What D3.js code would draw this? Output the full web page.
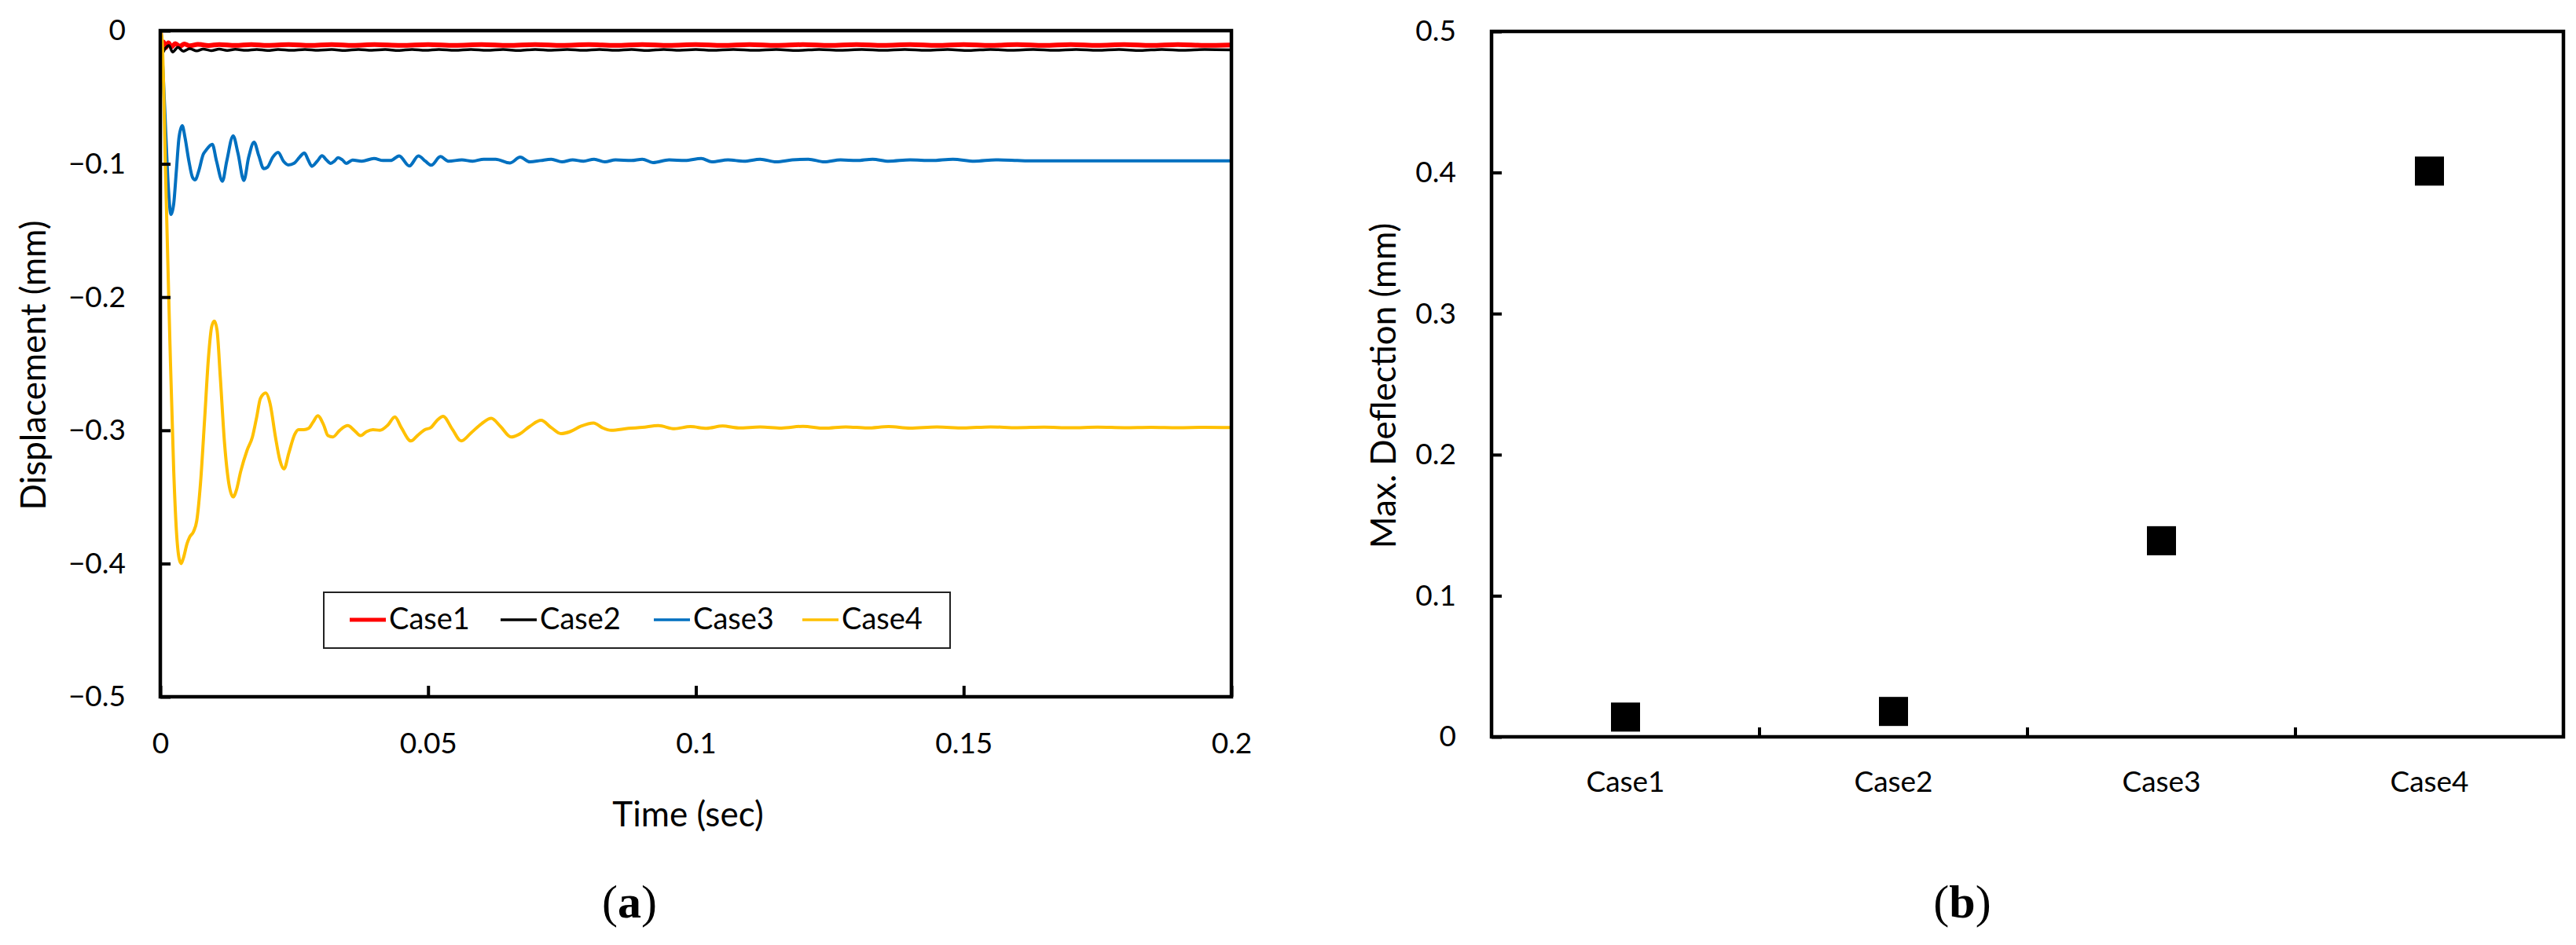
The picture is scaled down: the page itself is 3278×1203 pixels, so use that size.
<!DOCTYPE html>
<html>
<head>
<meta charset="utf-8">
<script src="https://cdn.jsdelivr.net/npm/d3@7"></script>
<style>
body { margin: 0; background: #fff; }
text { font-family: Lato, "Open Sans", sans-serif; fill: #000; }
</style>
</head>
<body>
<div id="chart"></div>
<script>

var width = 3278,
    height = 1203;

// ---- panel (a): displacement time histories, [time ms, displacement mm] ----
var seriesNames = ["Case1", "Case2", "Case3", "Case4"];
var seriesColors = ["#ff0000", "#000000", "#0070c0", "#ffc000"];
var seriesWidths = [6, 3.5, 4, 4];

var case1 = [[0,0],[0.25,-0.0135],[0.6,-0.0085],[1.0,-0.0128],[1.5,-0.0092],[2.1,-0.0122],[2.8,-0.0097],[3.6,-0.0118],[4.5,-0.0100],[5.5,-0.0114],[7,-0.0103],[9,-0.0112],[11,-0.0104],[14,-0.0111],[17,-0.0104],[20,-0.0110],[24,-0.0105],[28,-0.0111],[32,-0.0104],[36,-0.0110],[40,-0.0105],[45,-0.0111],[50,-0.0104],[55,-0.0110],[60,-0.0105],[65,-0.0111],[70,-0.0104],[75,-0.0110],[80,-0.0105],[85,-0.0111],[90,-0.0104],[95,-0.0110],[100,-0.0105],[105,-0.0111],[110,-0.0104],[115,-0.0110],[120,-0.0105],[125,-0.0111],[130,-0.0104],[135,-0.0110],[140,-0.0105],[145,-0.0111],[150,-0.0104],[155,-0.0110],[160,-0.0105],[165,-0.0111],[170,-0.0104],[175,-0.0110],[180,-0.0105],[185,-0.0111],[190,-0.0104],[195,-0.0110],[200,-0.0107]];

var case2 = [[0,0],[0.3,-0.0172],[0.9,-0.0135],[1.6,-0.0112],[2.3,-0.016],[3.3,-0.0125],[4.3,-0.0155],[5.5,-0.0135],[6.8,-0.0152],[8,-0.0138],[9.5,-0.015],[11,-0.0139],[12.5,-0.0149],[14,-0.014],[16,-0.0148],[18,-0.0141],[20,-0.0149],[22,-0.0142],[24.5,-0.0148],[27,-0.0141],[29.5,-0.0147],[32,-0.0142],[34.5,-0.0149],[37,-0.0141],[39.5,-0.0147],[42,-0.0142],[44.5,-0.0149],[47,-0.0141],[49.5,-0.0148],[52,-0.0142],[55,-0.0148],[58,-0.0141],[61,-0.0148],[64,-0.0142],[67,-0.0149],[70,-0.0141],[73,-0.0147],[76,-0.0142],[79,-0.0148],[82,-0.0141],[85,-0.0148],[88,-0.0142],[91,-0.0149],[94,-0.0141],[97,-0.0147],[100,-0.0142],[103,-0.0148],[107,-0.0141],[111,-0.0148],[115,-0.0142],[119,-0.0149],[123,-0.0141],[127,-0.0147],[131,-0.0142],[135,-0.0148],[139,-0.0141],[143,-0.0148],[147,-0.0142],[151,-0.0149],[155,-0.0141],[159,-0.0147],[163,-0.0142],[167,-0.0148],[171,-0.0141],[175,-0.0148],[179,-0.0142],[183,-0.0149],[187,-0.0141],[191,-0.0147],[195,-0.0142],[200,-0.0145]];

var case3 = [[0,0],[0.5,-0.03],[1.0,-0.075],[1.5,-0.118],[2.0,-0.138],[2.5,-0.13],[3.0,-0.105],[3.5,-0.08],[4.1,-0.0714],[4.6,-0.08],[5.3,-0.097],[6.0,-0.11],[6.5,-0.112],[7.2,-0.105],[8.0,-0.093],[8.5,-0.09],[9.7,-0.0853],[10.5,-0.098],[11.6,-0.113],[12.4,-0.098],[13.6,-0.079],[14.5,-0.092],[15.6,-0.1124],[16.5,-0.095],[17.5,-0.0837],[18.4,-0.094],[19.3,-0.1036],[20,-0.1025],[21,-0.095],[22,-0.0914],[23,-0.098],[23.9,-0.1008],[25,-0.0995],[26,-0.095],[26.9,-0.0918],[27.6,-0.097],[28.3,-0.1018],[29.3,-0.098],[30.2,-0.0939],[31,-0.097],[31.8,-0.0996],[32.5,-0.098],[33.2,-0.0953],[34,-0.097],[34.7,-0.0996],[35.9,-0.0971],[37.6,-0.098],[39.9,-0.096],[41.6,-0.0975],[43,-0.0975],[44.6,-0.094],[46.5,-0.1016],[48.2,-0.094],[49.5,-0.098],[50.6,-0.101],[52.3,-0.0945],[53.8,-0.098],[56.3,-0.097],[58.3,-0.098],[60.4,-0.0965],[62.6,-0.0965],[65.3,-0.0993],[67.2,-0.095],[69,-0.0985],[71,-0.0975],[73,-0.0965],[75,-0.0985],[77,-0.097],[79,-0.098],[81,-0.0965],[83,-0.0985],[85,-0.097],[88,-0.0975],[90,-0.0965],[92,-0.099],[95,-0.097],[98,-0.0975],[101,-0.096],[103,-0.0985],[106,-0.097],[109,-0.098],[112,-0.0965],[115,-0.0985],[118,-0.097],[121,-0.0965],[124,-0.0985],[127,-0.097],[130,-0.0975],[133,-0.0965],[136,-0.098],[140,-0.097],[144,-0.0975],[148,-0.0965],[152,-0.098],[156,-0.097],[160,-0.0975],[162,-0.0978],[170,-0.0978],[200,-0.0978]];

var case4 = [[0,0],[0.3,-0.005],[1.0,-0.11],[1.8,-0.235],[2.5,-0.33],[3.0,-0.375],[3.5,-0.396],[3.9,-0.4],[4.3,-0.396],[5.0,-0.385],[5.5,-0.38],[6.2,-0.376],[6.8,-0.368],[7.5,-0.34],[8.3,-0.29],[9.0,-0.245],[9.6,-0.222],[10.1,-0.218],[10.6,-0.225],[11.2,-0.26],[12.0,-0.31],[12.8,-0.34],[13.6,-0.35],[14.2,-0.345],[15.0,-0.331],[16.2,-0.315],[17.2,-0.305],[18.0,-0.29],[18.7,-0.276],[19.7,-0.272],[20.5,-0.28],[21.5,-0.305],[22.3,-0.322],[23.1,-0.329],[24.0,-0.317],[25.1,-0.303],[25.8,-0.2995],[26.8,-0.2995],[27.7,-0.2985],[28.5,-0.294],[29.4,-0.289],[30.5,-0.296],[31.3,-0.304],[32.2,-0.305],[33.5,-0.3],[35.0,-0.2965],[36.2,-0.3],[37.4,-0.304],[38.5,-0.301],[39.7,-0.2995],[41.0,-0.3],[42.5,-0.296],[43.8,-0.29],[45.0,-0.298],[46.8,-0.308],[48.0,-0.304],[49.4,-0.2995],[50.5,-0.298],[51.8,-0.292],[52.8,-0.2895],[54.5,-0.299],[56.2,-0.308],[58.0,-0.302],[60.0,-0.295],[61.8,-0.291],[63.5,-0.297],[65.5,-0.305],[67.0,-0.303],[69.0,-0.297],[71.1,-0.2925],[73.0,-0.298],[74.8,-0.3025],[76.5,-0.301],[78.5,-0.297],[80.9,-0.2945],[82.5,-0.298],[84.2,-0.3],[87.4,-0.2985],[90,-0.2978],[93,-0.2965],[96,-0.2988],[99,-0.2972],[102,-0.2985],[105,-0.2968],[108,-0.2982],[112,-0.2975],[116,-0.2983],[120,-0.297],[124,-0.2984],[128,-0.2974],[132,-0.2982],[136,-0.2972],[140,-0.2983],[145,-0.2975],[150,-0.2982],[155,-0.2974],[160,-0.298],[165,-0.2976],[170,-0.2981],[175,-0.2976],[180,-0.298],[185,-0.2977],[190,-0.298],[195,-0.2977],[200,-0.2979]];

var timeTicks = [0, 0.05, 0.1, 0.15, 0.2];
var dispTicks = [0, -0.1, -0.2, -0.3, -0.4, -0.5];

// ---- panel (b): maximum deflection per case ----
var cases = ["Case1", "Case2", "Case3", "Case4"];
var maxDeflection = [0.014, 0.018, 0.139, 0.401];
var deflTicks = [0, 0.1, 0.2, 0.3, 0.4, 0.5];

var svg = d3.select("#chart")
    .append("svg")
    .attr("width", width)
    .attr("height", height);

svg.append("rect")
    .attr("width", width)
    .attr("height", height)
    .attr("fill", "#fff");

var fmt = d3.format("~g");

// ================= panel (a) =================
var a = { left: 204, right: 1567, top: 39, bottom: 887 };

var xA = d3.scaleLinear().domain([0, 0.2]).range([a.left, a.right]);
var yA = d3.scaleLinear().domain([-0.5, 0]).range([a.bottom, a.top]);

svg.append("clipPath").attr("id", "clipA")
    .append("rect")
    .attr("x", a.left).attr("y", a.top - 3)
    .attr("width", a.right - a.left).attr("height", a.bottom - a.top + 3);

var line = d3.line()
    .x(function (d) { return xA(d[0] / 1000); })
    .y(function (d) { return yA(d[1]); })
    .curve(d3.curveMonotoneX);

var allSeries = [case1, case2, case3, case4];

var gLines = svg.append("g").attr("clip-path", "url(#clipA)");
gLines.selectAll("path")
    .data(allSeries)
    .enter()
    .append("path")
    .attr("d", line)
    .attr("fill", "none")
    .attr("stroke", function (d, i) { return seriesColors[i]; })
    .attr("stroke-width", function (d, i) { return seriesWidths[i]; })
    .attr("stroke-linejoin", "round");

var xAxisA = svg.append("g")
    .attr("transform", "translate(0," + a.bottom + ")")
    .call(d3.axisBottom(xA).tickValues(timeTicks).tickFormat(fmt).tickSize(-14).tickPadding(46));

var yAxisA = svg.append("g")
    .attr("transform", "translate(" + a.left + ",0)")
    .call(d3.axisLeft(yA).tickValues(dispTicks).tickFormat(fmt).tickSize(-13).tickPadding(44));

[xAxisA, yAxisA].forEach(function (ax) {
    ax.select(".domain").remove();
    ax.selectAll("line").attr("stroke", "#000").attr("stroke-width", 4);
    ax.selectAll("text").style("font-size", "37px").style("font-family", "Lato");
});

svg.append("rect")
    .attr("x", a.left).attr("y", a.top)
    .attr("width", a.right - a.left).attr("height", a.bottom - a.top)
    .attr("fill", "none")
    .attr("stroke", "#000")
    .attr("stroke-width", 4.5);

svg.append("text")
    .attr("x", (a.left + a.right) / 2 - 10)
    .attr("y", 1052)
    .attr("text-anchor", "middle")
    .style("font-size", "44px")
    .text("Time (sec)");

svg.append("text")
    .attr("transform", "translate(58," + 465 + ")rotate(-90)")
    .attr("text-anchor", "middle")
    .style("font-size", "44px")
    .text("Displacement (mm)");

// legend
var legend = svg.append("g");
legend.append("rect")
    .attr("x", 412).attr("y", 754)
    .attr("width", 797).attr("height", 71)
    .attr("fill", "#fff")
    .attr("stroke", "#222")
    .attr("stroke-width", 2);

var legendX = [445, 637, 832, 1021];
var items = legend.selectAll("g.item")
    .data(seriesNames)
    .enter()
    .append("g")
    .attr("class", "item")
    .attr("transform", function (d, i) { return "translate(" + legendX[i] + ",789)"; });

items.append("line")
    .attr("x1", 0).attr("x2", 46)
    .attr("stroke", function (d, i) { return seriesColors[i]; })
    .attr("stroke-width", function (d, i) { return i === 0 ? 5 : 3.5; });

items.append("text")
    .attr("x", 50)
    .attr("y", 12)
    .style("font-size", "38px")
    .text(function (d) { return d; });

svg.append("text")
    .attr("x", 801)
    .attr("y", 1168)
    .attr("text-anchor", "middle")
    .style("font-family", "'Liberation Serif', serif")
    .style("font-size", "60px")
    .html("(<tspan font-weight='bold'>a</tspan>)");

// ================= panel (b) =================
var b = { left: 1898, right: 3262, top: 40, bottom: 938 };

var xB = d3.scaleBand().domain(cases).range([b.left, b.right]);
var yB = d3.scaleLinear().domain([0, 0.5]).range([b.bottom, b.top]);

var xAxisB = svg.append("g")
    .attr("transform", "translate(0," + b.bottom + ")")
    .call(d3.axisBottom(xB).tickSize(0).tickPadding(44));

var yAxisB = svg.append("g")
    .attr("transform", "translate(" + b.left + ",0)")
    .call(d3.axisLeft(yB).tickValues(deflTicks).tickFormat(fmt).tickSize(-13).tickPadding(45));

[xAxisB, yAxisB].forEach(function (ax) {
    ax.select(".domain").remove();
    ax.selectAll("line").attr("stroke", "#000").attr("stroke-width", 4);
    ax.selectAll("text").style("font-size", "37px").style("font-family", "Lato");
});

// category separators on the x axis
svg.append("g")
    .selectAll("line")
    .data(cases.slice(1))
    .enter()
    .append("line")
    .attr("x1", function (d) { return xB(d); })
    .attr("x2", function (d) { return xB(d); })
    .attr("y1", b.bottom)
    .attr("y2", b.bottom - 12)
    .attr("stroke", "#000")
    .attr("stroke-width", 4);

svg.append("rect")
    .attr("x", b.left).attr("y", b.top)
    .attr("width", b.right - b.left).attr("height", b.bottom - b.top)
    .attr("fill", "none")
    .attr("stroke", "#000")
    .attr("stroke-width", 4.5);

var sq = 37;
svg.append("g")
    .selectAll("rect")
    .data(maxDeflection)
    .enter()
    .append("rect")
    .attr("x", function (d, i) { return xB(cases[i]) + xB.bandwidth() / 2 - sq / 2; })
    .attr("y", function (d) { return yB(d) - sq / 2; })
    .attr("width", sq)
    .attr("height", sq)
    .attr("fill", "#000");

svg.append("text")
    .attr("transform", "translate(1776," + 491 + ")rotate(-90)")
    .attr("text-anchor", "middle")
    .style("font-size", "44px")
    .text("Max. Deflection (mm)");

svg.append("text")
    .attr("x", 2497)
    .attr("y", 1168)
    .attr("text-anchor", "middle")
    .style("font-family", "'Liberation Serif', serif")
    .style("font-size", "60px")
    .html("(<tspan font-weight='bold'>b</tspan>)");

</script>
</body>
</html>
